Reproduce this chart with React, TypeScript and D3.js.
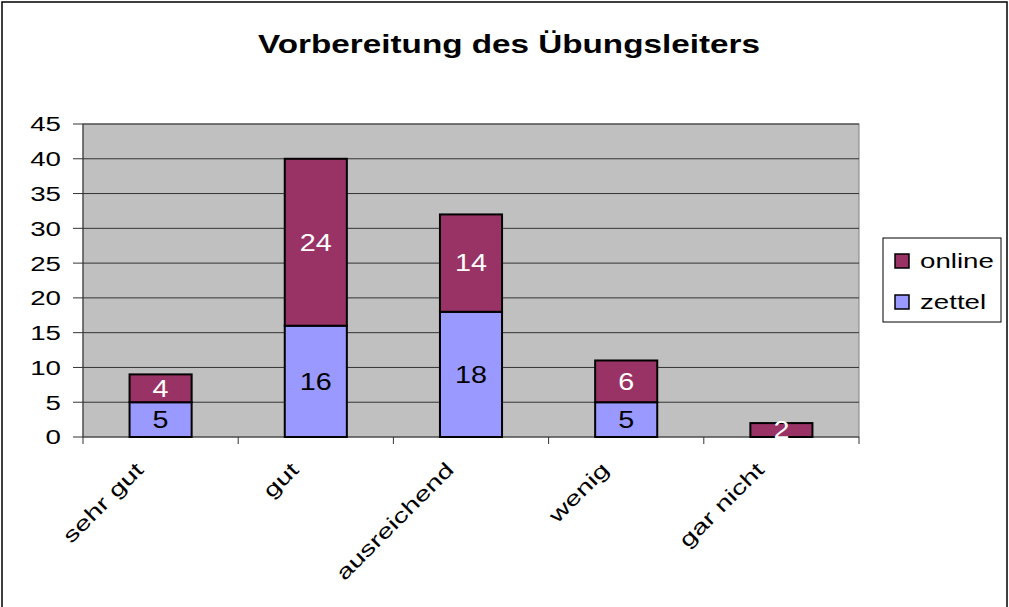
import * as d3 from "d3";
import { useEffect, useRef } from "react";

const categories = ["sehr gut", "gut", "ausreichend", "wenig", "gar nicht"];
const zettel = [5, 16, 18, 5, 0];
const online = [4, 24, 14, 6, 2];
const yTicks = [0, 5, 10, 15, 20, 25, 30, 35, 40, 45];
const seriesNames = ["zettel", "online"];
const seriesColors = ["#9999FF", "#993366"];
const labelColors = ["#000000", "#FFFFFF"];

const App = () => {
  const ref = useRef<SVGSVGElement>(null);

  useEffect(() => {
    const width = 1009, height = 607;
    const plot = { left: 83, right: 859, top: 124, bottom: 437 };
    const font = "Liberation Sans, Arial, sans-serif";
    const stretch = 1.35; // the original text is rendered wide

    const svg = d3.select(ref.current);
    svg.selectAll("*").remove();

    // outer border
    svg.append("rect")
      .attr("x", 2).attr("y", 2)
      .attr("width", width - 4).attr("height", height + 10)
      .attr("fill", "white").attr("stroke", "#000").attr("stroke-width", 1.5);

    // title
    svg.append("text")
      .attr("transform", `translate(509,53) scale(1.33,1)`)
      .attr("text-anchor", "middle")
      .attr("font-family", font).attr("font-weight", "bold").attr("font-size", 25)
      .text("Vorbereitung des Übungsleiters");

    const x = d3.scaleBand().domain(categories).range([plot.left, plot.right]).paddingInner(0.6).paddingOuter(0.3);
    const y = d3.scaleLinear().domain([0, 45]).range([plot.bottom, plot.top]);

    // plot area
    svg.append("rect")
      .attr("x", plot.left).attr("y", plot.top)
      .attr("width", plot.right - plot.left).attr("height", plot.bottom - plot.top)
      .attr("fill", "#C0C0C0").attr("stroke", "#808080").attr("stroke-width", 1);

    // gridlines
    svg.append("g").selectAll("line").data(yTicks.filter(t => t > 0)).enter().append("line")
      .attr("x1", plot.left).attr("x2", plot.right)
      .attr("y1", d => y(d)).attr("y2", d => y(d))
      .attr("stroke", "#333").attr("stroke-width", 1);

    // y axis
    const yAxis = svg.append("g");
    yAxis.append("line")
      .attr("x1", plot.left).attr("x2", plot.left)
      .attr("y1", plot.top).attr("y2", plot.bottom)
      .attr("stroke", "#333");
    yAxis.selectAll("line.tick").data(yTicks).enter().append("line")
      .attr("class", "tick")
      .attr("x1", plot.left - 10).attr("x2", plot.left)
      .attr("y1", d => y(d)).attr("y2", d => y(d))
      .attr("stroke", "#333");
    yAxis.selectAll("text").data(yTicks).enter().append("text")
      .attr("transform", d => `translate(${plot.left - 22},${y(d)}) scale(${stretch},1)`)
      .attr("dy", "0.36em")
      .attr("text-anchor", "end")
      .attr("font-family", font).attr("font-size", 20.5)
      .text(d => d);

    // x axis
    const step = (plot.right - plot.left) / categories.length;
    svg.append("line")
      .attr("x1", plot.left).attr("x2", plot.right)
      .attr("y1", plot.bottom).attr("y2", plot.bottom)
      .attr("stroke", "#333");
    svg.append("g").selectAll("line").data(d3.range(categories.length + 1)).enter().append("line")
      .attr("x1", i => plot.left + i * step).attr("x2", i => plot.left + i * step)
      .attr("y1", plot.bottom).attr("y2", plot.bottom + 7)
      .attr("stroke", "#333");
    svg.append("g").selectAll("text").data(categories).enter().append("text")
      .attr("transform", d => `translate(${x(d)! + x.bandwidth() / 2 - 16},${plot.bottom + 34}) rotate(-45) scale(1.4,1)`)
      .attr("text-anchor", "end")
      .attr("font-family", font).attr("font-size", 20.5)
      .text(d => d);

    // stacked bars
    const rows = categories.map((c, i) => ({ cat: c, zettel: zettel[i], online: online[i] }));
    const stack = d3.stack<any>().keys(seriesNames)(rows);

    stack.forEach((layer, si) => {
      const g = svg.append("g");
      const segs = layer.filter(d => d[1] - d[0] > 0);
      g.selectAll("rect").data(segs).enter().append("rect")
        .attr("x", d => x(d.data.cat)!)
        .attr("y", d => y(d[1]))
        .attr("width", x.bandwidth())
        .attr("height", d => y(d[0]) - y(d[1]))
        .attr("fill", seriesColors[si])
        .attr("stroke", "#000").attr("stroke-width", 2);
      g.selectAll("text").data(segs).enter().append("text")
        .attr("transform", d => `translate(${x(d.data.cat)! + x.bandwidth() / 2},${(y(d[0]) + y(d[1])) / 2}) scale(1.25,1)`)
        .attr("dy", "0.36em")
        .attr("text-anchor", "middle")
        .attr("font-family", font).attr("font-size", 23)
        .attr("fill", labelColors[si])
        .text(d => d[1] - d[0]);
    });

    // legend
    const legend = svg.append("g");
    legend.append("rect")
      .attr("x", 883).attr("y", 238).attr("width", 118).attr("height", 84)
      .attr("fill", "white").attr("stroke", "#000").attr("stroke-width", 1);
    const legendItems = [1, 0];
    legendItems.forEach((si, k) => {
      const cy = 261 + k * 41;
      legend.append("rect")
        .attr("x", 895).attr("y", cy - 7).attr("width", 14).attr("height", 14)
        .attr("fill", seriesColors[si]).attr("stroke", "#000").attr("stroke-width", 1.5);
      legend.append("text")
        .attr("transform", `translate(920,${cy}) scale(${stretch},1)`)
        .attr("dy", "0.36em")
        .attr("font-family", font).attr("font-size", 20.5)
        .text(seriesNames[si]);
    });
  }, []);

  return (
    <svg ref={ref} width={1009} height={607} style={{ position: "absolute", left: 0, top: 0 }}></svg>
  );
};

export default App;
